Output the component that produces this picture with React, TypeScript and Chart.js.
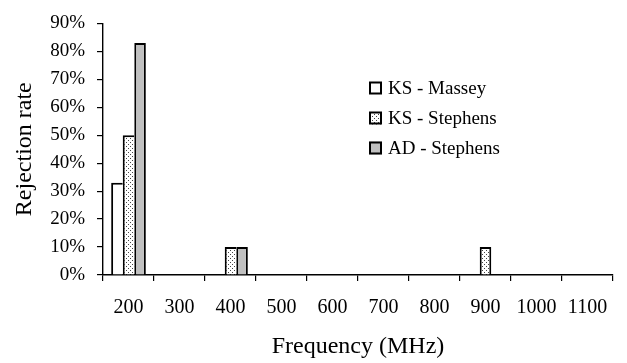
import React, { useEffect, useRef } from 'react';
import { Chart, registerables } from 'chart.js';

Chart.register(...registerables);

const categories = ['200', '300', '400', '500', '600', '700', '800', '900', '1000', '1100'];
const seriesNames = ['KS - Massey', 'KS - Stephens', 'AD - Stephens'];
const ksMassey = [33, 0, 0, 0, 0, 0, 0, 0, 0, 0];
const ksStephens = [50, 0, 10, 0, 0, 0, 0, 10, 0, 0];
const adStephens = [83, 0, 10, 0, 0, 0, 0, 0, 0, 0];
const yMax = 90;
const yStep = 10;
const xTitle = 'Frequency (MHz)';
const yTitle = 'Rejection rate';

const FONT = '"Liberation Serif", "Times New Roman", serif';

function makeDotPattern(ctx: CanvasRenderingContext2D): CanvasPattern | string {
  const c = document.createElement('canvas');
  c.width = 4;
  c.height = 4;
  const p = c.getContext('2d');
  if (!p) return '#ddd';
  p.fillStyle = '#ffffff';
  p.fillRect(0, 0, 4, 4);
  p.fillStyle = '#444444';
  p.fillRect(0, 0, 1, 1);
  p.fillRect(2, 2, 1, 1);
  return ctx.createPattern(c, 'repeat') || '#ddd';
}

const insideLegend = {
  id: 'insideLegend',
  afterDraw(chart: any) {
    const ctx: CanvasRenderingContext2D = chart.ctx;
    const x = 369;
    const y0 = 88;
    const gap = 30;
    const box = 13;
    chart.data.datasets.forEach((ds: any, i: number) => {
      const cy = y0 + i * gap;
      ctx.save();
      ctx.fillStyle = ds.backgroundColor;
      ctx.fillRect(x, cy - box / 2, box, box);
      ctx.lineWidth = 2;
      ctx.strokeStyle = '#000';
      ctx.strokeRect(x + 1, cy - box / 2 + 1, box - 2, box - 2);
      ctx.fillStyle = '#000';
      ctx.font = '19px ' + FONT;
      ctx.textBaseline = 'middle';
      ctx.textAlign = 'left';
      ctx.fillText(ds.label, x + box + 6, cy + 1);
      ctx.restore();
    });
  },
};

export default function App() {
  const ref = useRef<HTMLCanvasElement | null>(null);

  useEffect(() => {
    const canvas = ref.current;
    if (!canvas) return;
    const ctx = canvas.getContext('2d');
    if (!ctx) return;
    const series = [ksMassey, ksStephens, adStephens];
    const fills = ['#ffffff', makeDotPattern(ctx), '#c0c0c0'];

    const bw = 2;
    const chart = new Chart(ctx, {
      type: 'bar',
      data: {
        labels: categories,
        datasets: series.map((vals, i) => ({
          label: seriesNames[i],
          data: vals,
          backgroundColor: fills[i] as any,
          borderColor: '#000',
          borderWidth: (c: any) => {
            const di = c.datasetIndex;
            const j = c.dataIndex;
            const v = series[di][j];
            const next = di < series.length - 1 ? series[di + 1][j] : 0;
            return { top: bw, left: bw, right: next >= v && next > 0 ? 0 : bw, bottom: 0 };
          },
          borderSkipped: 'start',
          categoryPercentage: 0.68,
          barPercentage: 1.0,
        })),
      },
      options: {
        responsive: false,
        animation: false,
        layout: { padding: { top: 17, right: 14, left: 0, bottom: 0 } },
        plugins: {
          legend: { display: false },
          tooltip: { enabled: false },
        },
        scales: {
          x: {
            offset: true,
            grid: {
              offset: true,
              drawOnChartArea: false,
              drawTicks: true,
              tickLength: 6,
              color: '#000',
              lineWidth: 1.2,
            },
            border: { color: '#000', width: 1.4 },
            ticks: {
              color: '#000',
              font: { family: FONT, size: 20 },
              padding: 15,
              maxRotation: 0,
              autoSkip: false,
            },
            title: {
              display: true,
              text: xTitle,
              color: '#000',
              font: { family: FONT, size: 24 },
              padding: { top: 0, bottom: 2 },
            },
            afterFit: (s: any) => {
              s.height = 88;
            },
          },
          y: {
            min: 0,
            max: yMax,
            grid: {
              drawOnChartArea: false,
              drawTicks: true,
              tickLength: 6,
              color: '#000',
              lineWidth: 1.2,
            },
            border: { color: '#000', width: 1.4 },
            ticks: {
              stepSize: yStep,
              color: '#000',
              font: { family: FONT, size: 19 },
              padding: 12,
              callback: (v: any) => v + '%',
            },
            title: {
              display: true,
              text: yTitle,
              color: '#000',
              font: { family: FONT, size: 24 },
              padding: { top: 10, bottom: 0 },
            },
            afterFit: (s: any) => {
              s.width = 103;
            },
          },
        },
      },
      plugins: [insideLegend],
    });
    return () => chart.destroy();
  }, []);

  return (
    <div style={{ position: 'fixed', left: 0, top: 0, width: 627, height: 363, background: '#fff' }}>
      <canvas ref={ref} width={627} height={363} style={{ display: 'block', width: 627, height: 363 }} />
    </div>
  );
}
